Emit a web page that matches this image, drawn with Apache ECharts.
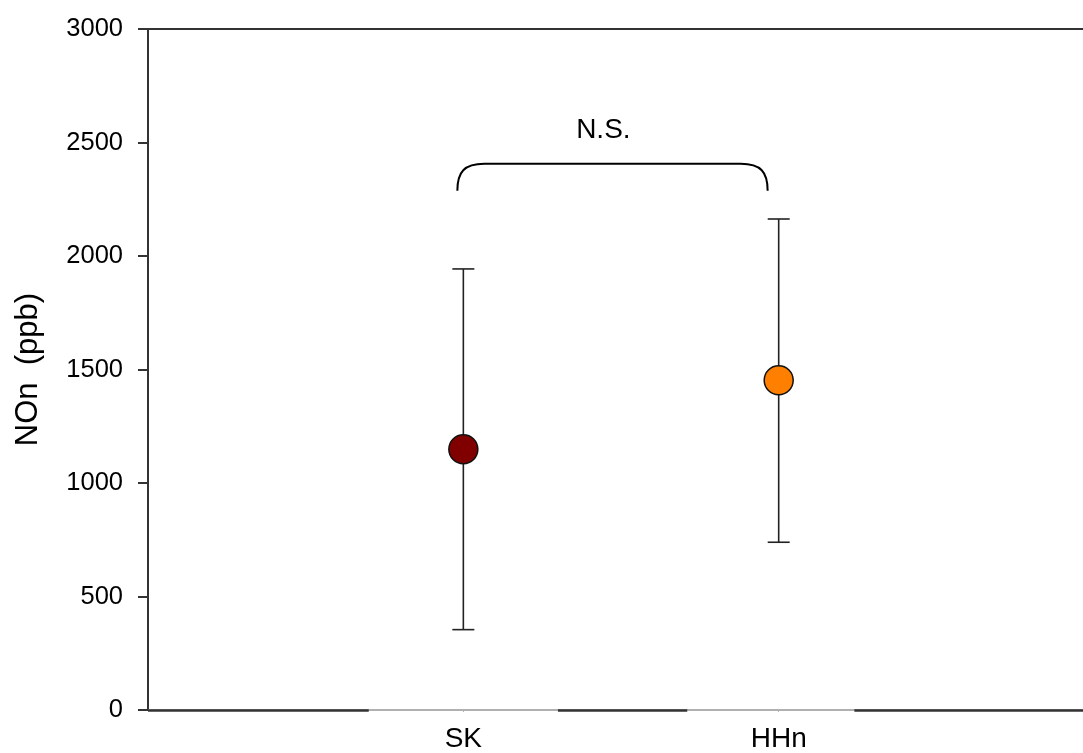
<!DOCTYPE html>
<html>
<head>
<meta charset="utf-8">
<script src="https://cdn.jsdelivr.net/npm/echarts@6/dist/echarts.min.js"></script>
<style>
html,body{margin:0;padding:0;background:#fff;}
#c{width:1083px;height:753px;}
</style>
</head>
<body>
<div id="c"></div>
<script>
// ---- data ----
var categories = ['SK', 'HHn'];
var catPositions = [1, 2];
var means = [1149, 1453];
var upper = [1943, 2163];
var lower = [354, 739];
var colors = ['#800000', '#FF8000'];
var yTicks = [0, 500, 1000, 1500, 2000, 2500, 3000];
var bracketX = [0.981, 1.965];
var bracketY = [2287, 2406];
var sigLabel = 'N.S.';
var sigLabelPos = [1.444, 2556];

var FONT = '"Liberation Sans", Arial, sans-serif';
var chart = echarts.init(document.getElementById('c'));

var errData = categories.map(function (c, i) { return [catPositions[i], lower[i], upper[i]]; });
var pointData = categories.map(function (c, i) {
  return { value: [catPositions[i], means[i]], itemStyle: { color: colors[i] } };
});

chart.setOption({
  animation: false,
  grid: { left: 148, right: 0, top: 29, bottom: 43 },
  xAxis: [{
    type: 'value', min: 0, max: 2.965, interval: 1,
    splitLine: { show: false },
    axisLine: { show: true, lineStyle: { color: '#b0b0b0', width: 2 } },
    axisTick: { show: true, length: 2, lineStyle: { color: '#b0b0b0' }, customValues: catPositions },
    axisLabel: {
      customValues: catPositions,
      formatter: function (v) { var i = catPositions.indexOf(v); return i >= 0 ? categories[i] : ''; },
      fontSize: 28, color: '#000', fontFamily: FONT, margin: 15
    }
  }, {
    type: 'value', min: 0, max: 2.965, position: 'top',
    splitLine: { show: false },
    axisLine: { show: true, lineStyle: { color: '#333', width: 2 } },
    axisTick: { show: false }, axisLabel: { show: false }
  }],
  yAxis: {
    type: 'value', min: 0, max: 3000, interval: 500,
    name: 'NOn  (ppb)', nameLocation: 'middle', nameGap: 104,
    nameTextStyle: { fontSize: 31, color: '#000', fontFamily: FONT },
    splitLine: { show: false },
    axisLine: { show: true, lineStyle: { color: '#333', width: 2 } },
    axisTick: { show: true, inside: false, length: 10, lineStyle: { color: '#333', width: 2 } },
    axisLabel: {
      customValues: yTicks,
      formatter: function (v) { return String(v); },
      fontSize: 25.5, color: '#000', fontFamily: FONT, margin: 25
    }
  },
  series: [
    {
      type: 'custom',
      z: 2,
      data: errData,
      renderItem: function (params, api) {
        var x = api.value(0);
        var lo = api.coord([x, api.value(1)]);
        var hi = api.coord([x, api.value(2)]);
        var hw = 11;
        var st = { stroke: '#222', lineWidth: 1.6, fill: null };
        return {
          type: 'group',
          children: [
            { type: 'line', shape: { x1: lo[0], y1: lo[1], x2: hi[0], y2: hi[1] }, style: st },
            { type: 'line', shape: { x1: lo[0] - hw, y1: lo[1], x2: lo[0] + hw, y2: lo[1] }, style: st },
            { type: 'line', shape: { x1: hi[0] - hw, y1: hi[1], x2: hi[0] + hw, y2: hi[1] }, style: st }
          ]
        };
      }
    },
    {
      type: 'scatter',
      z: 3,
      symbol: 'circle',
      symbolSize: 29,
      itemStyle: { borderColor: '#111', borderWidth: 1.5, opacity: 1 },
      data: pointData,
      markLine: {
        silent: true, symbol: 'none', animation: false,
        lineStyle: { color: '#333', width: 2.5, type: 'solid' },
        label: { show: false },
        data: [
          [{ coord: [0, 0] }, { coord: [0.70, 0] }],
          [{ coord: [1.30, 0] }, { coord: [1.71, 0] }],
          [{ coord: [2.24, 0] }, { coord: [2.965, 0] }]
        ]
      }
    },
    {
      type: 'custom',
      z: 2,
      data: [[bracketX[0], bracketY[0], bracketX[1], bracketY[1]]],
      renderItem: function (params, api) {
        var bl = api.coord([api.value(0), api.value(1)]);
        var tr = api.coord([api.value(2), api.value(3)]);
        var L = bl[0], R = tr[0], B = bl[1], T = tr[1];
        var rx = 27;
        var d = 'M' + L + ' ' + B +
          ' C' + L + ' ' + (T + (B - T) * 0.3) + ' ' + (L + rx * 0.25) + ' ' + T + ' ' + (L + rx) + ' ' + T +
          ' L' + (R - rx) + ' ' + T +
          ' C' + (R - rx * 0.25) + ' ' + T + ' ' + R + ' ' + (T + (B - T) * 0.3) + ' ' + R + ' ' + B;
        return {
          type: 'path',
          shape: { pathData: d },
          style: { stroke: '#000', lineWidth: 2, fill: null }
        };
      }
    },
    {
      type: 'custom',
      z: 2,
      data: [sigLabelPos],
      renderItem: function (params, api) {
        var p = api.coord([api.value(0), api.value(1)]);
        return {
          type: 'text', x: p[0], y: p[1],
          style: { text: sigLabel, fontSize: 28, fontFamily: FONT, fill: '#000', align: 'center', verticalAlign: 'middle' }
        };
      }
    }
  ]
});
</script>
</body>
</html>
